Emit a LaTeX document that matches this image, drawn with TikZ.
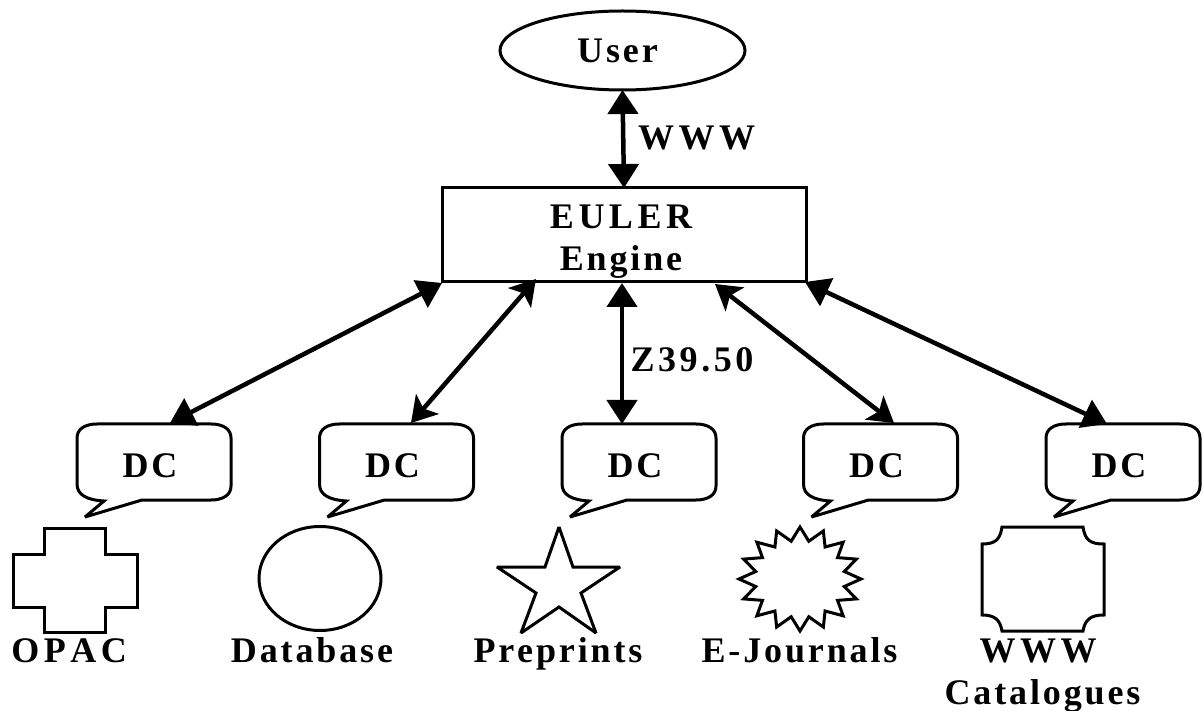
\documentclass[tikz,border=0pt]{standalone}
\usepackage{fontspec}
\setmainfont{Liberation Serif}[LetterSpace=8,Kerning=Off]
\newcommand{\capsp}{\addfontfeature{LetterSpace=12.5}}
\newcommand{\numsp}{\addfontfeature{LetterSpace=10}}
\usetikzlibrary{arrows.meta,shapes.geometric}
\tikzset{
  ink/.style={line width=3pt,line join=miter,miter limit=3,draw=black},
  txt/.style={font=\fontsize{36}{42}\selectfont\bfseries,inner sep=0pt,outer sep=0pt},
  lbl/.style={txt,anchor=base},
  link/.style={line width=4.5pt,{Triangle[length=24pt,width=30pt]}-{Triangle[length=24pt,width=30pt]}},
  notched/.style={line width=4.5pt,{Stealth[length=25pt,width=30pt,inset=6pt]}-{Stealth[length=25pt,width=30pt,inset=6pt]}},
}
\newcommand{\dcbox}[2]{%
  \node[txt] (#1) at (#2+73,466) {DC};
  \draw[ink,shift={(#2,424)}] (20,0) -- (134,0) .. controls (146,0) and (154,5) .. (154,14)
    -- (154,62) .. controls (154,71) and (146,76) .. (134,76)
    -- (65,76) -- (8,93) -- (27,77) .. controls (10,76) and (0,71) .. (0,60)
    -- (0,14) .. controls (0,5) and (8,0) .. (20,0) -- cycle;
}
\begin{document}
\begin{tikzpicture}[x=1pt,y=-1pt]
\useasboundingbox (0,0) rectangle (1203,711);
% top nodes
\node[txt,ink,ellipse,minimum width=245pt,minimum height=79pt] (user) at (622.5,50.5) {User\hspace*{10pt}};
\node[txt,ink,rectangle,minimum width=364pt,minimum height=94pt,align=center] (engine) at (624,235)
  {\rule{0pt}{36pt}{\capsp EULER}\hspace*{6pt}\\Engine\hspace*{6pt}};
\node[lbl] (wwwtop) at (696.5,150) {\capsp WWW};
\node[lbl] (zlabel) at (692,372) {\numsp Z39.50};
% callouts
\dcbox{dca}{77}
\dcbox{dcb}{319.5}
\dcbox{dcc}{562}
\dcbox{dcd}{803.5}
\dcbox{dce}{1046}
% arrows
\draw[link] (user.south) -- (engine.north);
\draw[link] ([shift={(-182,1)}]engine.south) -- ([shift={(20,-43)}]dca.center);
\draw[notched] ([shift={(-88,-3)}]engine.south) -- ([shift={(18.5,-43)}]dcb.center);
\draw[link] ([shift={(-2,1)}]engine.south) -- ([shift={(-13,-42)}]dcc.center);
\draw[notched] ([shift={(91,2)}]engine.south) -- ([shift={(17.5,-43)}]dcd.center);
\draw[link] ([shift={(181,0)}]engine.south) -- ([shift={(-12,-42)}]dce.center);
% sources
\draw[ink] (44,528) -- (105,528) -- (105,554) -- (137,554) -- (137,607) -- (105,607) -- (105,632)
  -- (44,632) -- (44,607) -- (13,607) -- (13,554) -- (44,554) -- cycle;
\draw[ink] (320,578.5) ellipse [x radius=61, y radius=52];
\draw[ink] (559,527) -- (573,567) -- (620,567) -- (581,593) -- (596,633) -- (559,607)
  -- (521,633) -- (536,593) -- (497,567) -- (545,567) -- cycle;
\draw[ink,shift={(800,579)}] plot[samples at={0,1,...,31},variable=\t]
  ({cos(\t*11.25)*61*(1-0.26*mod(\t,2))},{sin(\t*11.25)*52*(1-0.26*mod(\t,2))}) -- cycle;
\draw[ink] (1002,527) -- (1083,527) .. controls (1085,540) and (1090,544) .. (1104,544)
  -- (1104,615) .. controls (1090,615) and (1085,620) .. (1083,631) -- (1002,631)
  .. controls (1000,620) and (995,615) .. (982,615) -- (982,544)
  .. controls (995,544) and (1000,540) .. (1002,527) -- cycle;
% source labels
\node[lbl] (opac) at (69,662) {\capsp OPAC};
\node[lbl] (database) at (312,662) {Database};
\node[lbl] (preprints) at (558,662) {Preprints};
\node[lbl] (ejournals) at (799.5,662) {E-Journals};
\node[lbl] (wwwcat) at (1038,662) {\capsp WWW};
\node[lbl] (catalogues) at (1042.5,704) {Catalogues};
\end{tikzpicture}
\end{document}
